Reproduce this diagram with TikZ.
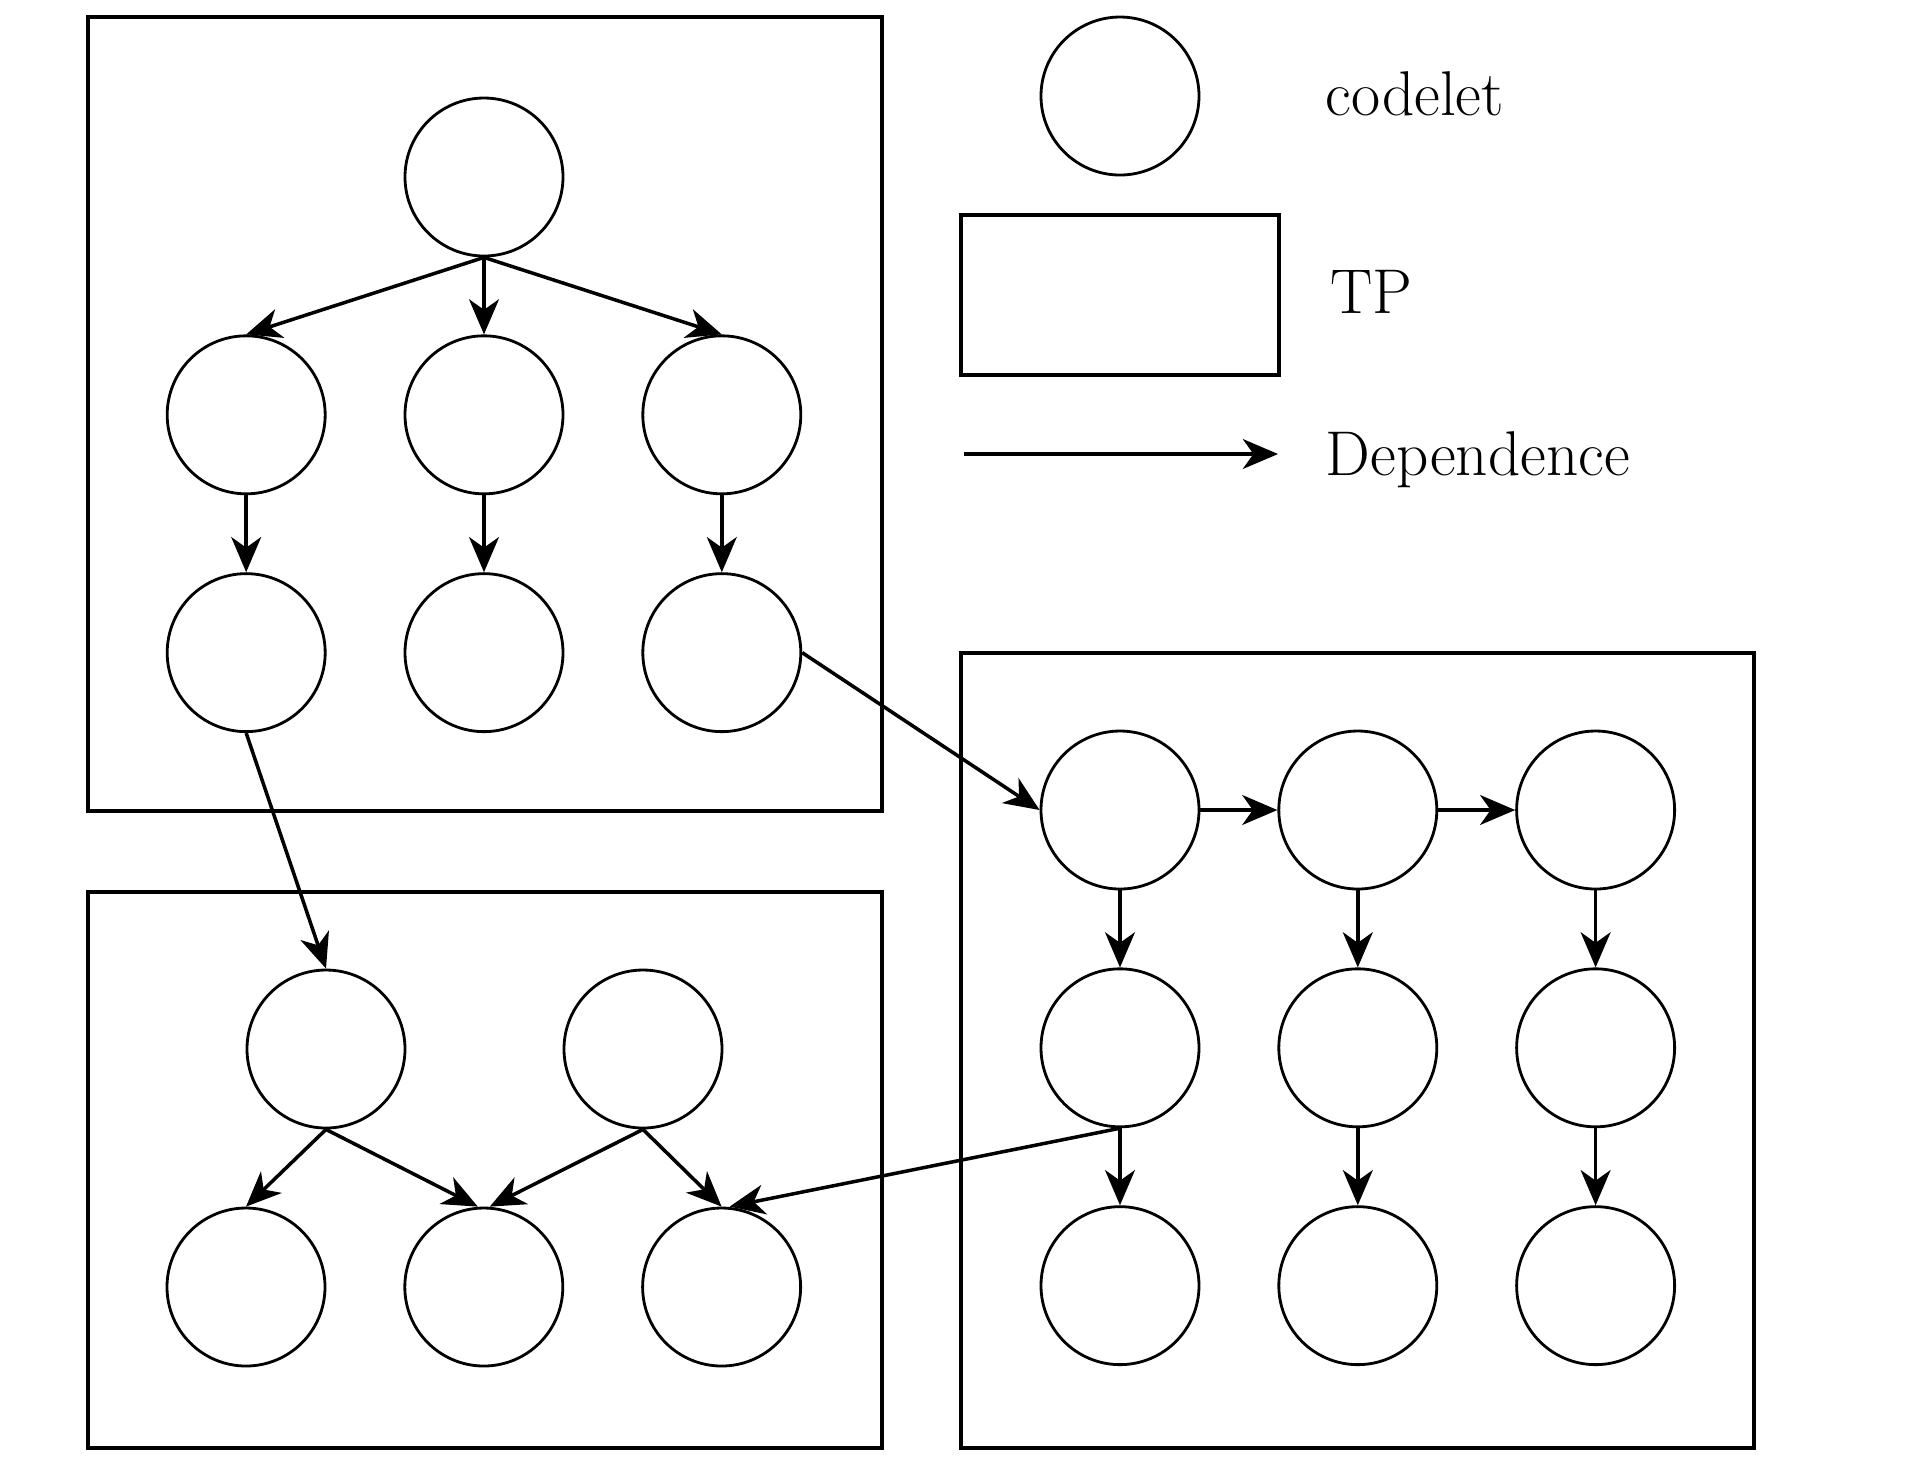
\documentclass[tikz,border=0pt]{standalone}
\usetikzlibrary{positioning}
\usetikzlibrary{arrows.meta}

\begin{document}
\begin{tikzpicture}[
    codelet/.style={circle, draw=black, fill=white, line width=0.8pt, minimum size=1.58cm, inner sep=0pt},
    dep/.style={-{Stealth[length=10pt, width=8.5pt, inset=3pt]}, line width=1pt},
    tpbox/.style={draw=black, line width=0.9pt},
    legendtext/.style={anchor=base west, inner sep=0pt, font=\fontsize{18}{22}\selectfont},
    node distance=0.77cm,
]
    \useasboundingbox (0,0) rectangle (19.13,-14.65);

    % TP boxes
    \draw[tpbox] (0.88,-0.17) rectangle (8.82,-8.11);
    \draw[tpbox] (0.88,-8.92) rectangle (8.82,-14.48);
    \draw[tpbox] (9.61,-6.53) rectangle (17.54,-14.48);

    % upper left TP
    \node[codelet] (T1) at (4.84,-1.77) {};
    \node[codelet] (T2b) [below=of T1] {};
    \node[codelet] (T2a) [left=of T2b] {};
    \node[codelet] (T2c) [right=of T2b] {};
    \node[codelet] (T3a) [below=of T2a] {};
    \node[codelet] (T3b) [below=of T2b] {};
    \node[codelet] (T3c) [below=of T2c] {};

    % lower left TP
    \node[codelet] (B1a) at (3.26,-10.49) {};
    \node[codelet] (B1b) at (6.43,-10.49) {};
    \node[codelet] (B2a) at (2.46,-12.87) {};
    \node[codelet] (B2b) [right=of B2a] {};
    \node[codelet] (B2c) [right=of B2b] {};

    % right TP
    \node[codelet] (R1a) at (11.20,-8.10) {};
    \node[codelet] (R1b) [right=of R1a] {};
    \node[codelet] (R1c) [right=of R1b] {};
    \node[codelet] (R2a) [below=of R1a] {};
    \node[codelet] (R2b) [below=of R1b] {};
    \node[codelet] (R2c) [below=of R1c] {};
    \node[codelet] (R3a) [below=of R2a] {};
    \node[codelet] (R3b) [below=of R2b] {};
    \node[codelet] (R3c) [below=of R2c] {};

    % legend
    \node[codelet] (L1) at (11.20,-0.96) {};
    \node[legendtext] (Lcodelet) at (13.25,-1.15) {codelet};
    \node[tpbox, minimum width=3.18cm, minimum height=1.60cm, inner sep=0pt] (L2) at (11.20,-2.95) {};
    \node[legendtext] (Ltp) at (13.30,-3.13) {TP};
    \coordinate (L3s) at (9.64,-4.54);
    \coordinate (L3e) at (12.78,-4.54);
    \node[legendtext] (Ldep) at (13.25,-4.75) {Dependence};
    \draw[dep] (L3s) -- (L3e);

    % dependences
    \draw[dep] (T1.south) -- (T2a.north);
    \draw[dep] (T1.south) -- (T2b.north);
    \draw[dep] (T1.south) -- (T2c.north);
    \draw[dep] (T2a.south) -- (T3a.north);
    \draw[dep] (T2b.south) -- (T3b.north);
    \draw[dep] (T2c.south) -- (T3c.north);

    \draw[dep] (B1a.south) -- (B2a.north);
    \draw[dep] (B1a.south) -- ([xshift=-0.06cm]B2b.north);
    \draw[dep] (B1b.south) -- ([xshift=0.06cm]B2b.north);
    \draw[dep] (B1b.south) -- (B2c.north);

    \draw[dep] (R1a.east) -- (R1b.west);
    \draw[dep] (R1b.east) -- (R1c.west);
    \draw[dep] (R1a.south) -- (R2a.north);
    \draw[dep] (R1b.south) -- (R2b.north);
    \draw[dep] (R1c.south) -- (R2c.north);
    \draw[dep] (R2a.south) -- (R3a.north);
    \draw[dep] (R2b.south) -- (R3b.north);
    \draw[dep] (R2c.south) -- (R3c.north);

    % between TPs
    \draw[dep] (T3a.south) -- (B1a.north);
    \draw[dep] (T3c.east) -- (R1a.west);
    \draw[dep] (R2a.south) -- ([xshift=0.08cm]B2c.north);
\end{tikzpicture}
\end{document}
